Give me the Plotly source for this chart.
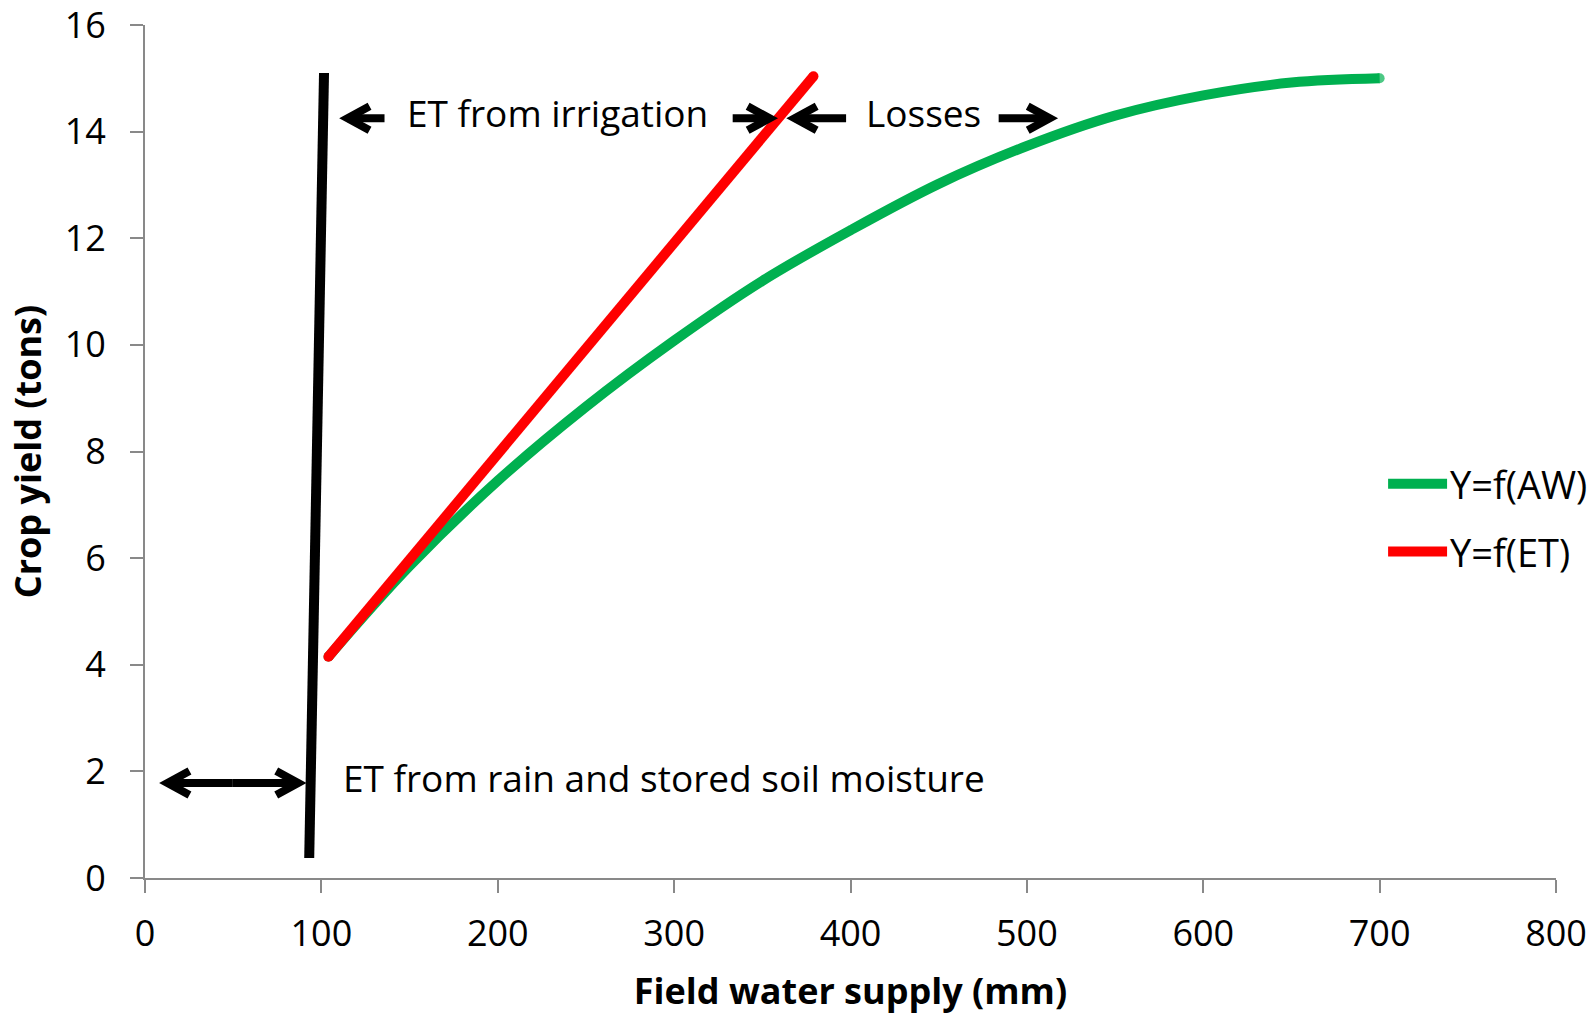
import plotly.graph_objects as go

# ---- data -------------------------------------------------------------
# Yield vs applied water (green) and yield vs ET (red)
AW_X = [104, 150, 200, 250, 300, 350, 400, 450, 500, 550, 600, 650, 700]
AW_Y = [4.15, 5.85, 7.45, 8.84, 10.08, 11.2, 12.15, 13.02, 13.73, 14.3, 14.68, 14.92, 15.0]

ET_X = [104, 379]
ET_Y = [4.15, 15.04]

# Boundary between rain-fed ET and irrigation
BOUND_X = [93.1, 101.5]
BOUND_Y = [0.375, 15.1]

SERIES_NAMES = ["Y=f(AW)", "Y=f(ET)"]

X_TICKS = [0, 100, 200, 300, 400, 500, 600, 700, 800]
Y_TICKS = [0, 2, 4, 6, 8, 10, 12, 14, 16]

# Annotation arrows: (tail x, tip x, y)
ARROWS = [
    (135.8, 110.3, 14.25),
    (333.2, 358.7, 14.25),
    (397.5, 363.8, 14.25),
    (484.0, 517.5, 14.25),
    (49.8, 8.2, 1.78),
    (49.8, 91.4, 1.78),
]

# Text labels: (text, x, y)
LABELS = [
    ("ET from irrigation", 234.1, 14.35),
    ("Losses", 441.2, 14.35),
    ("ET from rain and stored soil moisture", 294.4, 1.89),
]

GREEN = "#00B050"
RED = "#FF0000"
AXIS_GREY = "#898989"
FONT = "Open Sans"
FS_TICK = 36
FS_TEXT = 37
FS_LEGEND = 38

PX_PER_X = 1411 / 800  # plot width in px per mm on the x axis

fig = go.Figure()

fig.add_trace(go.Scatter(
    x=BOUND_X, y=BOUND_Y, mode="lines",
    line=dict(color="black", width=10), showlegend=False, hoverinfo="skip",
))

# round ends on the curves
aw_caps = [10] + [0] * (len(AW_X) - 2) + [10]
fig.add_trace(go.Scatter(
    x=AW_X, y=AW_Y, name=SERIES_NAMES[0], mode="lines+markers",
    line=dict(color=GREEN, width=10, shape="spline", smoothing=1),
    marker=dict(color=GREEN, size=aw_caps, line=dict(width=0)),
    showlegend=False,
))
fig.add_trace(go.Scatter(
    x=ET_X, y=ET_Y, name=SERIES_NAMES[1], mode="lines+markers",
    line=dict(color=RED, width=10),
    marker=dict(color=RED, size=10, line=dict(width=0)),
    showlegend=False,
))

shapes = []
HEAD_INSET = 8  # px between the outer tip and the chevron vertex
for tail, tip, y in ARROWS:
    s = 1 if tip > tail else -1
    shapes.append(dict(type="line", xref="x", yref="y",
                       x0=tail, x1=tip - s * HEAD_INSET / PX_PER_X, y0=y, y1=y,
                       line=dict(color="black", width=8)))
    shapes.append(dict(
        type="path", xref="x", yref="y",
        xsizemode="pixel", ysizemode="pixel", xanchor=tip, yanchor=y,
        path=f"M{-30 * s},12 L{-HEAD_INSET * s},0 L{-30 * s},-12",
        line=dict(color="black", width=8),
    ))

# legend keys
LEGEND_Y = [0.4621, 0.3827]
for name, color, ly in zip(SERIES_NAMES, [GREEN, RED], LEGEND_Y):
    shapes.append(dict(type="line", xref="paper", yref="paper",
                       x0=0.8810, x1=0.9228, y0=ly, y1=ly,
                       line=dict(color=color, width=10)))

annotations = []
for text, x, y in LABELS:
    annotations.append(dict(text=text, x=x, y=y, xref="x", yref="y",
                            showarrow=False, font=dict(family=FONT, size=FS_TEXT, color="black")))
for name, ly in zip(SERIES_NAMES, LEGEND_Y):
    annotations.append(dict(text=name, x=0.9233, y=ly, xref="paper", yref="paper",
                            xanchor="left", yanchor="middle", showarrow=False,
                            font=dict(family=FONT, size=FS_LEGEND, color="black")))

axis_common = dict(
    showgrid=False, zeroline=False, showline=True, linecolor=AXIS_GREY, linewidth=2,
    ticks="outside", ticklen=13, tickwidth=2, tickcolor=AXIS_GREY,
    tickfont=dict(family=FONT, size=FS_TICK, color="black"),
    ticklabeloverflow="allow", automargin=False,
)

fig.update_layout(
    width=1595, height=1015,
    margin=dict(l=145, r=39, t=25, b=137),
    paper_bgcolor="white", plot_bgcolor="white",
    font=dict(family=FONT, size=FS_TICK, color="black"),
    shapes=shapes, annotations=annotations,
    xaxis=dict(range=[0, 800], tickvals=X_TICKS, ticktext=[str(v) for v in X_TICKS],
               ticklabelstandoff=10,
               title=dict(text="<b>Field water supply (mm)</b>", standoff=25,
                          font=dict(family=FONT, size=FS_TICK, color="black")),
               **axis_common),
    yaxis=dict(range=[0, 16], tickvals=Y_TICKS, ticktext=[str(v) for v in Y_TICKS],
               ticklabelstandoff=17,
               title=dict(text="<b>Crop yield (tons)</b>", standoff=12,
                          font=dict(family=FONT, size=FS_TICK, color="black")),
               **axis_common),
)

fig.write_html("out.html")
